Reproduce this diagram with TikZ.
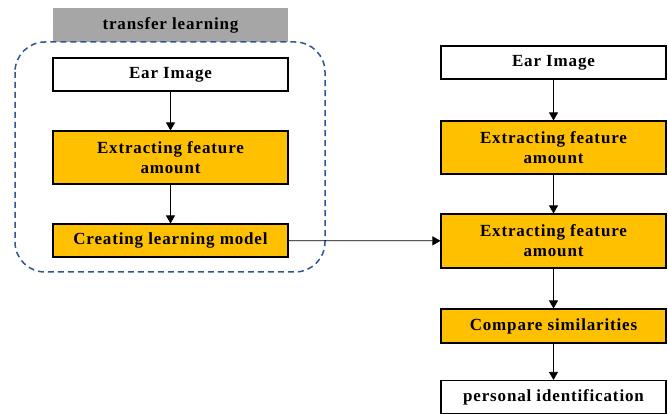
\documentclass[tikz,border=0pt]{standalone}
\usepackage{fontspec}
\setmainfont{Liberation Serif}[LetterSpace=5]
\usepackage{tikz}
\usetikzlibrary{arrows.meta}

\definecolor{boxgold}{RGB}{255,192,0}
\definecolor{titlegray}{RGB}{166,166,166}
\definecolor{groupblue}{RGB}{47,85,151}

\begin{document}
\begin{tikzpicture}[x=1pt, y=1pt, ->, >={Triangle[width=9pt, length=8pt]}, line width=0.8pt,
	every node/.style={align=center, font=\fontsize{17}{20}\selectfont\bfseries},
	plain box/.style={draw=black, fill=white, line width=1.1pt, minimum height=33pt},
	gold box/.style={plain box, fill=boxgold},
	wide/.style={minimum width=235pt},
	narrow/.style={minimum width=225pt}]
		\useasboundingbox (0, 0) rectangle (668, 414);
		
		\node[fill=titlegray, wide, minimum height=34pt] (title) at (170.5, 389) {transfer learning};
		\draw[-, groupblue, line width=1.5pt, dash pattern=on 6pt off 4pt, rounded corners=30pt] (15, 372) rectangle (325, 142);
		\node[plain box, wide] (ear1) at (170.5, 339.5) {Ear Image};
		\node[gold box, wide, minimum height=53pt] (feat1) at (170.5, 256.5) {Extracting feature\\amount};
		\node[gold box, wide] (model) at (170.5, 173.5) {Creating learning model};
		
		\node[plain box, narrow] (ear2) at (553.5, 351.5) {Ear Image};
		\node[gold box, narrow, minimum height=53pt] (feat2) at (553.5, 266.5) {Extracting feature\\amount};
		\node[gold box, narrow, minimum height=54pt] (feat3) at (553.5, 173) {Extracting feature\\amount};
		\node[gold box, narrow, minimum height=34pt] (comp) at (553.5, 88) {Compare similarities};
		\node[plain box, narrow] (ident) at (553.5, 17) {personal identification};
		
		\path (ear1) edge (feat1)
			(feat1) edge (model)
			(model) edge (feat3)
			(ear2) edge (feat2)
			(feat2) edge (feat3)
			(feat3) edge (comp)
			(comp) edge (ident);
	\end{tikzpicture}
\end{document}
